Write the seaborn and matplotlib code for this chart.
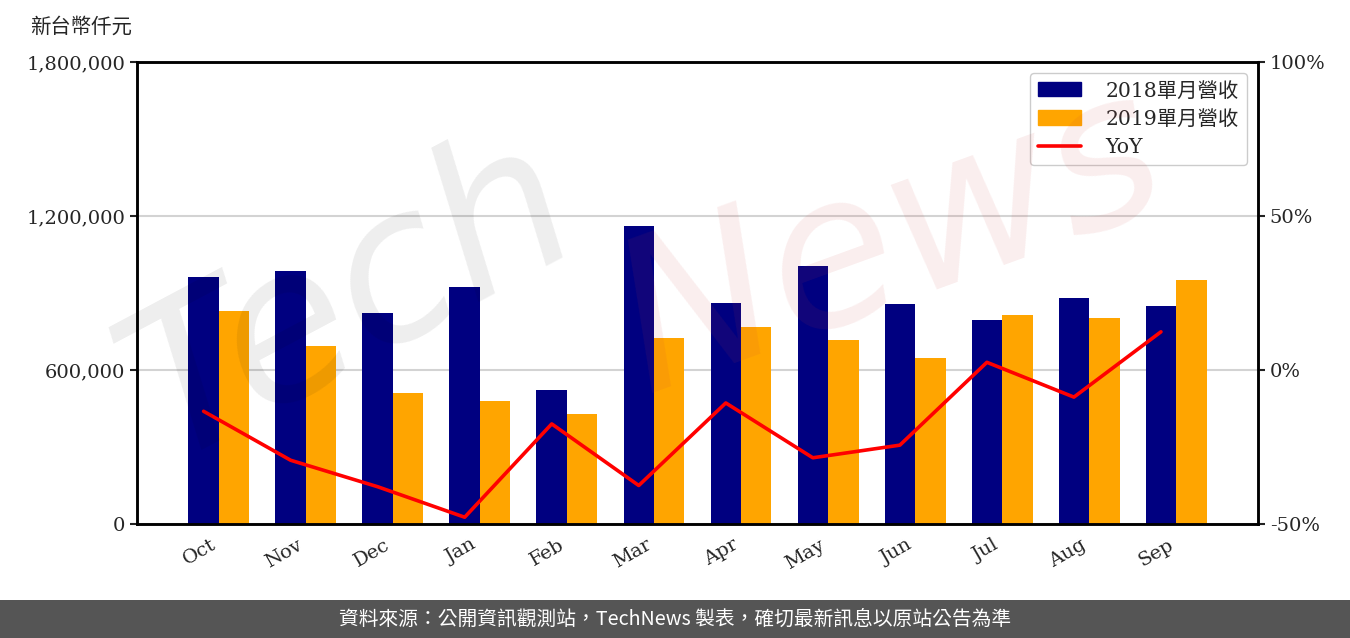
# -*- coding: utf-8 -*-
import numpy as np
import pandas as pd
import matplotlib
matplotlib.use("Agg")
import matplotlib.pyplot as plt
import matplotlib.patches as mpatches
import seaborn as sns

# 月份與營收（新台幣仟元）
months = ["Oct", "Nov", "Dec", "Jan", "Feb", "Mar", "Apr", "May", "Jun", "Jul", "Aug", "Sep"]
rev_2018 = [962000, 986000, 822000, 923000, 522000, 1161000, 861000, 1005000, 857000, 795000, 880000, 849000]
rev_2019 = [830000, 694000, 510000, 479000, 429000, 725000, 767000, 717000, 647000, 814000, 803000, 951000]
yoy = [-13.4, -29.3, -37.9, -47.8, -17.5, -37.5, -10.7, -28.5, -24.4, 2.5, -8.8, 12.4]

series_names = ["2018單月營收", "2019單月營收"]
left_ticks = [0, 600000, 1200000, 1800000]
right_ticks = [-50, 0, 50, 100]

sns.set_style("white")
plt.rcParams['font.family'] = ['DejaVu Serif', 'Noto Sans CJK TC']

df = pd.DataFrame({
    "month": months * 2,
    "rev": rev_2018 + rev_2019,
    "series": [series_names[0]] * 12 + [series_names[1]] * 12,
})

fig = plt.figure(figsize=(13.5, 6.38), dpi=100)
ax = fig.add_axes([137 / 1350, 1 - 524 / 638, 1121 / 1350, 462 / 638])

sns.barplot(data=df, x="month", y="rev", hue="series", order=months,
            palette=["#000080", "#FFA500"], width=0.7, saturation=1,
            errorbar=None, ax=ax, legend=False, zorder=2,
            linewidth=0, edgecolor="none")
ax.set_xlim(-0.94, 11.94)
ax.set_ylim(0, 1800000)
ax.set_yticks(left_ticks)
ax.set_yticklabels([f"{v:,}" for v in left_ticks], fontsize=14)
ax.yaxis.grid(True, color="#d3d3d3", linewidth=1.5, zorder=0)
ax.set_axisbelow(True)
ax.set_xlabel("")
ax.set_ylabel("")
ax.set_xticks(range(len(months)))
ax.set_xticklabels(months, rotation=30, ha="right", fontsize=14)
ax.tick_params(axis="both", direction="out", length=5, width=1.5, color="#222222")
for s in ax.spines.values():
    s.set_color("black")
    s.set_linewidth(1.8)

ax2 = ax.twinx()
xpos = np.arange(len(months)) - 0.175
sns.lineplot(x=xpos, y=yoy, color="#FF0000", linewidth=2.6, ax=ax2, zorder=3)
ax2.set_ylim(-50, 100)
ax2.set_yticks(right_ticks)
ax2.set_yticklabels([f"{v}%" for v in right_ticks], fontsize=14)
ax2.tick_params(axis="y", direction="out", length=5, width=1.5, color="#222222")
for s in ax2.spines.values():
    s.set_color("black")
    s.set_linewidth(1.8)
ax2.grid(False)

handles = [mpatches.Patch(color="#000080", label=series_names[0]),
           mpatches.Patch(color="#FFA500", label=series_names[1]),
           plt.Line2D([], [], color="#FF0000", linewidth=2.6, label="YoY")]
ax2.legend(handles=handles, loc="upper right", fontsize=14.7, frameon=True,
           fancybox=True, edgecolor="#cccccc", framealpha=1,
           handlelength=2.1, handletextpad=1.2, labelspacing=0.45,
           borderaxespad=0.55)

fig.text(30 / 1350, 1 - 27 / 638, "新台幣仟元", fontsize=14.7, va="center", ha="left")

# 浮水印
fig.text(0.26, 0.53, "Tech", fontsize=150, rotation=28, color="black", alpha=0.07,
         ha="center", va="center", family="DejaVu Sans", style="italic", zorder=10)
fig.text(0.66, 0.62, "News", fontsize=150, rotation=20, color="#d04040", alpha=0.09,
         ha="center", va="center", family="DejaVu Sans", style="italic", zorder=10)

# 頁尾
fig.patches.append(mpatches.Rectangle((0, 0), 1, 38 / 638, transform=fig.transFigure,
                                      facecolor="#555555", edgecolor="none", zorder=0))
fig.text(0.5, 19 / 638, "資料來源：公開資訊觀測站，TechNews 製表，確切最新訊息以原站公告為準",
         color="white", fontsize=14.2, ha="center", va="center",
         family=["Noto Sans CJK TC", "DejaVu Sans"])

fig.savefig("out.png", dpi=100)
